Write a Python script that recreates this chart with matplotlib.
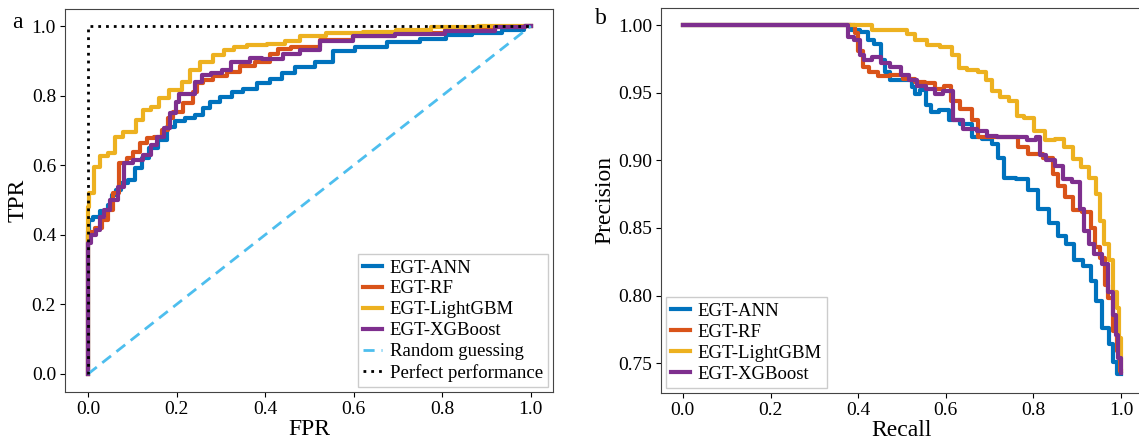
import numpy as np
import matplotlib
matplotlib.use("Agg")
import matplotlib.pyplot as plt

plt.rcParams['font.family'] = ['Liberation Serif', 'DejaVu Serif']

# ROC curves (FPR, TPR)
ann_fpr = [0, 0, 0.005, 0.016, 0.038, 0.053, 0.057, 0.068, 0.08, 0.099, 0.114, 0.129, 0.144, 0.17, 0.185,
           0.208, 0.23, 0.253, 0.268, 0.283, 0.313, 0.336, 0.366, 0.396, 0.426, 0.448, 0.486, 0.539, 0.569,
           0.637, 0.712, 0.787, 0.832, 0.9, 0.968, 1.0]
ann_tpr = [0, 0.41, 0.443, 0.452, 0.467, 0.486, 0.514, 0.529, 0.548, 0.557, 0.591, 0.62, 0.649, 0.672, 0.711,
           0.726, 0.735, 0.744, 0.763, 0.782, 0.797, 0.811, 0.82, 0.835, 0.849, 0.864, 0.883, 0.898, 0.927,
           0.941, 0.953, 0.964, 0.974, 0.981, 0.989, 1.0]

rf_fpr = [0, 0, 0.005, 0.027, 0.038, 0.05, 0.061, 0.08, 0.095, 0.11, 0.125, 0.14, 0.159, 0.174, 0.185, 0.2,
          0.23, 0.242, 0.249, 0.268, 0.298, 0.328, 0.358, 0.396, 0.426, 0.433, 0.485, 0.561, 0.637, 0.749,
          0.862, 0.975, 1.0]
rf_tpr = [0, 0.40, 0.409, 0.42, 0.443, 0.471, 0.52, 0.605, 0.62, 0.639, 0.663, 0.677, 0.682, 0.701, 0.735,
          0.754, 0.778, 0.811, 0.835, 0.845, 0.855, 0.869, 0.884, 0.898, 0.921, 0.933, 0.941, 0.96, 0.971,
          0.979, 0.989, 0.996, 1.0]

lgbm_fpr = [0, 0, 0.005, 0.02, 0.034, 0.057, 0.065, 0.095, 0.121, 0.129, 0.155, 0.166, 0.2, 0.223, 0.238,
            0.268, 0.298, 0.316, 0.343, 0.373, 0.433, 0.456, 0.5, 0.576, 0.666, 0.727, 0.824, 0.937, 1.0]
lgbm_tpr = [0, 0.48, 0.52, 0.596, 0.625, 0.635, 0.68, 0.696, 0.73, 0.759, 0.768, 0.792, 0.816, 0.84, 0.874,
            0.897, 0.917, 0.931, 0.941, 0.945, 0.948, 0.958, 0.97, 0.979, 0.984, 0.99, 0.996, 1.0, 1.0]

xgb_fpr = [0, 0, 0.012, 0.023, 0.031, 0.042, 0.057, 0.076, 0.087, 0.114, 0.136, 0.147, 0.163, 0.178, 0.193,
           0.204, 0.208, 0.234, 0.249, 0.264, 0.29, 0.313, 0.332, 0.358, 0.373, 0.411, 0.471, 0.486, 0.561,
           0.637, 0.749, 0.862, 0.975, 1.0]
xgb_tpr = [0, 0.376, 0.4, 0.414, 0.452, 0.471, 0.5, 0.538, 0.605, 0.615, 0.629, 0.658, 0.682, 0.706, 0.749,
           0.782, 0.806, 0.806, 0.84, 0.859, 0.864, 0.874, 0.898, 0.898, 0.907, 0.904, 0.921, 0.931, 0.956,
           0.97, 0.977, 0.987, 0.996, 1.0]

# PR curves (Recall, Precision)
ann_rec = [0, 0.378, 0.389, 0.419, 0.427, 0.446, 0.458, 0.465, 0.48, 0.518, 0.526, 0.534, 0.549, 0.56, 0.572,
           0.598, 0.617, 0.648, 0.671, 0.693, 0.716, 0.724, 0.743, 0.777, 0.8, 0.823, 0.849, 0.865, 0.884,
           0.899, 0.926, 0.937, 0.948, 0.967, 0.979, 0.986, 0.994, 1.0]
ann_prec = [1.0, 1.0, 0.996, 0.995, 0.989, 0.986, 0.974, 0.965, 0.959, 0.959, 0.954, 0.949, 0.952, 0.941, 0.936,
            0.937, 0.93, 0.927, 0.917, 0.916, 0.912, 0.902, 0.887, 0.886, 0.878, 0.864, 0.854, 0.844, 0.838,
            0.826, 0.822, 0.811, 0.796, 0.776, 0.764, 0.751, 0.742, 0.742]

rf_rec = [0, 0.389, 0.397, 0.404, 0.416, 0.434, 0.457, 0.488, 0.518, 0.541, 0.564, 0.587, 0.606, 0.617, 0.648,
          0.671, 0.678, 0.709, 0.754, 0.777, 0.8, 0.842, 0.849, 0.861, 0.884, 0.895, 0.925, 0.937, 0.944,
          0.96, 0.967, 0.975, 0.986, 0.994, 1.0]
rf_prec = [1.0, 1.0, 0.994, 0.981, 0.969, 0.965, 0.962, 0.963, 0.96, 0.958, 0.957, 0.953, 0.955, 0.944, 0.938,
           0.93, 0.917, 0.917, 0.917, 0.91, 0.905, 0.902, 0.89, 0.881, 0.873, 0.863, 0.862, 0.85, 0.836,
           0.828, 0.808, 0.798, 0.774, 0.759, 0.744]

lgbm_rec = [0, 0.431, 0.434, 0.503, 0.518, 0.541, 0.571, 0.602, 0.625, 0.636, 0.663, 0.686, 0.697, 0.716, 0.731,
            0.758, 0.766, 0.789, 0.815, 0.838, 0.861, 0.88, 0.899, 0.918, 0.937, 0.948, 0.956, 0.967, 0.979,
            0.986, 0.994, 0.998, 1.0]
lgbm_prec = [1.0, 1.0, 0.996, 0.996, 0.993, 0.989, 0.985, 0.984, 0.978, 0.968, 0.967, 0.965, 0.959, 0.951, 0.947,
             0.944, 0.933, 0.931, 0.922, 0.915, 0.916, 0.91, 0.901, 0.895, 0.887, 0.875, 0.855, 0.838, 0.826,
             0.803, 0.791, 0.769, 0.744]

xgb_rec = [0, 0.374, 0.381, 0.4, 0.408, 0.419, 0.446, 0.457, 0.488, 0.507, 0.526, 0.541, 0.568, 0.583, 0.606,
           0.625, 0.655, 0.686, 0.701, 0.731, 0.769, 0.8, 0.811, 0.819, 0.838, 0.861, 0.876, 0.902, 0.91,
           0.922, 0.933, 0.944, 0.967, 0.975, 0.986, 0.99, 0.998, 1.0]
xgb_prec = [1.0, 1.0, 0.991, 0.989, 0.978, 0.974, 0.976, 0.972, 0.969, 0.963, 0.959, 0.955, 0.953, 0.949, 0.951,
            0.93, 0.923, 0.922, 0.918, 0.917, 0.917, 0.915, 0.917, 0.904, 0.9, 0.896, 0.886, 0.884, 0.864,
            0.848, 0.838, 0.831, 0.823, 0.803, 0.786, 0.771, 0.754, 0.743]

names = ["EGT-ANN", "EGT-RF", "EGT-LightGBM", "EGT-XGBoost"]
colors = ["#0072BD", "#D95319", "#EDB120", "#7E2F8E"]

fig = plt.figure(figsize=(11.39, 4.43), dpi=100)
ax1 = fig.add_axes([0.0571, 0.1151, 0.4284, 0.8646])
ax2 = fig.add_axes([0.5803, 0.1129, 0.4232, 0.8691])

roc = [(ann_fpr, ann_tpr), (rf_fpr, rf_tpr), (lgbm_fpr, lgbm_tpr), (xgb_fpr, xgb_tpr)]
for (x, y), name, c in zip(roc, names, colors):
    ax1.plot(x, y, color=c, lw=3, label=name, drawstyle='steps-mid')
ax1.plot([0, 1], [0, 1], ls=(0, (4, 2.5)), color="#4DBEEE", lw=2, label="Random guessing")
ax1.plot([0, 0, 1], [0, 1, 1], ls=(0, (1, 1.8)), color="black", lw=2, label="Perfect performance")
ax1.set_xlabel("FPR", fontsize=17, labelpad=1)
ax1.set_ylabel("TPR", fontsize=17, labelpad=2)
ax1.set_xticks(np.arange(0, 1.01, 0.2))
ax1.set_yticks(np.arange(0, 1.01, 0.2))
ax1.set_xlim(-0.052, 1.05)
ax1.set_ylim(-0.052, 1.049)
ax1.legend(loc="lower right", fontsize=13.5, handlelength=1.0, handletextpad=0.4, labelspacing=0.2,
           borderpad=0.3, borderaxespad=0.25, fancybox=False, edgecolor="#cccccc", framealpha=1)

pr = [(ann_rec, ann_prec), (rf_rec, rf_prec), (lgbm_rec, lgbm_prec), (xgb_rec, xgb_prec)]
for (x, y), name, c in zip(pr, names, colors):
    ax2.plot(x, y, color=c, lw=3, label=name, drawstyle='steps-mid')
ax2.set_xlabel("Recall", fontsize=17, labelpad=1)
ax2.set_ylabel("Precision", fontsize=17, labelpad=2)
ax2.set_xticks(np.arange(0, 1.01, 0.2))
ax2.set_yticks([0.75, 0.80, 0.85, 0.90, 0.95, 1.00])
ax2.set_yticklabels(["0.75", "0.80", "0.85", "0.90", "0.95", "1.00"])
ax2.set_xlim(-0.05, 1.05)
ax2.set_ylim(0.728, 1.0126)
ax2.legend(loc="lower left", fontsize=13.5, handlelength=1.0, handletextpad=0.4, labelspacing=0.2,
           borderpad=0.3, borderaxespad=0.25, fancybox=False, edgecolor="#cccccc", framealpha=1)

for ax in (ax1, ax2):
    ax.tick_params(labelsize=14, pad=3)
    for s in ax.spines.values():
        s.set_color("#444444")

fig.text(17 / 1139, 1 - 22 / 443, "a", fontsize=17, ha="center", va="center")
fig.text(601 / 1139, 1 - 19 / 443, "b", fontsize=17, ha="center", va="center")

fig.savefig("out.png", dpi=100)
